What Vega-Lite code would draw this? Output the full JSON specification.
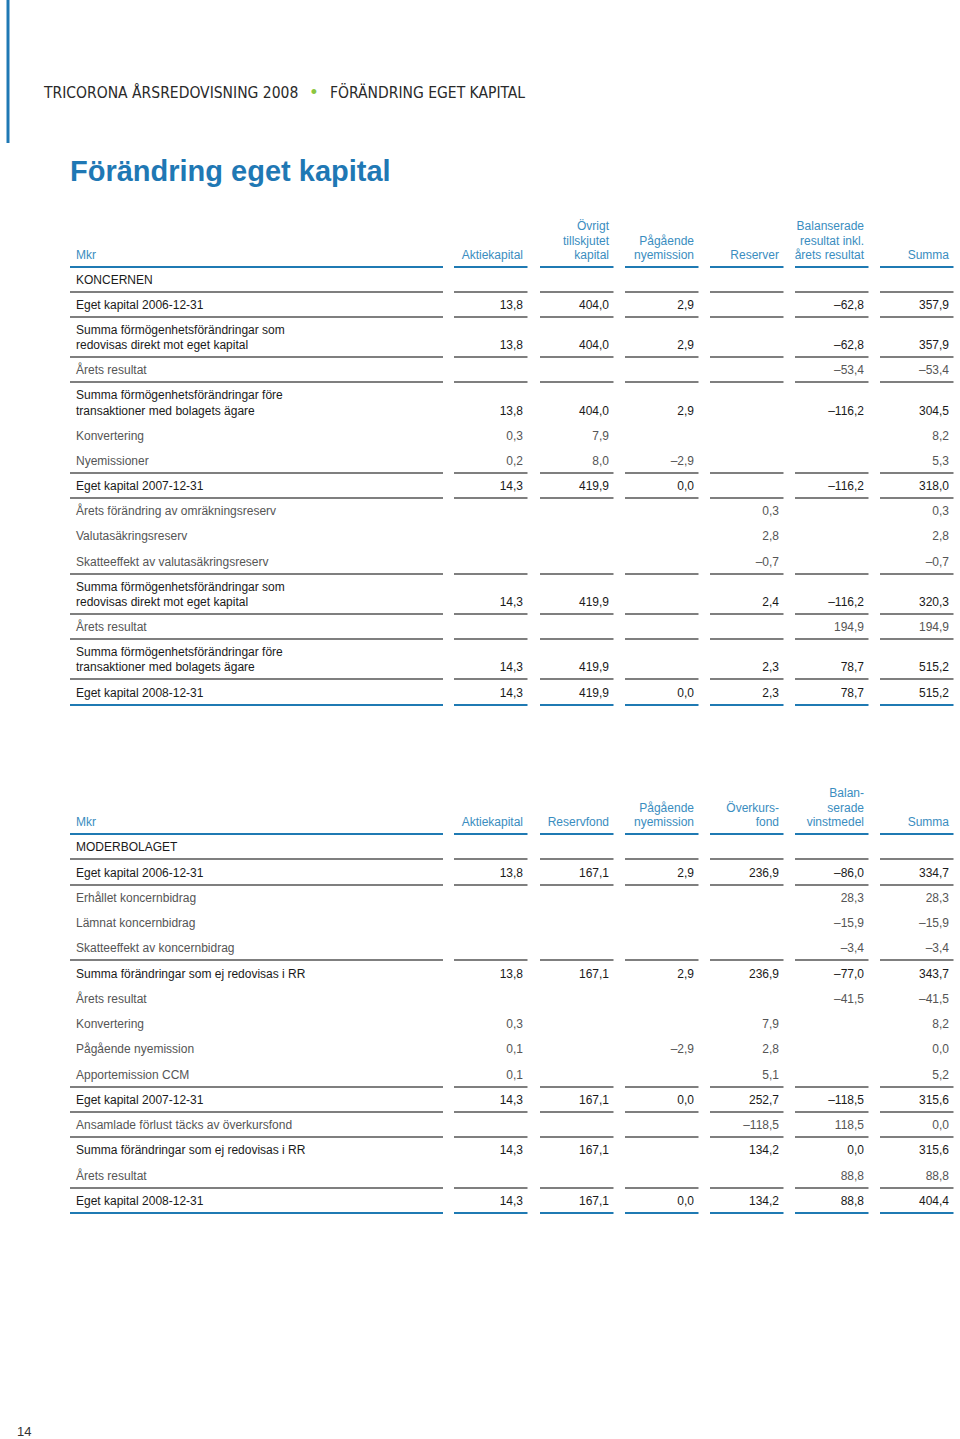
{
  "$schema": "https://vega.github.io/schema/vega-lite/v6.json",
  "width": 960,
  "height": 1439,
  "padding": 0,
  "autosize": {"type": "none"},
  "background": "#ffffff",
  "config": {"view": {"stroke": null}},
  "datasets": {
    "rows": [
      {"s":5,"k":"head","2":"Övrigt","5":"Balanserade"},
      {"s":6,"k":"head","2":"tillskjutet","3":"Pågående","5":"resultat inkl."},
      {"s":7,"k":"head","t":"Mkr","1":"Aktiekapital","2":"kapital","3":"nyemission","4":"Reserver","5":"årets resultat","6":"Summa","ln":"b"},
      {"s":8,"k":"dark","t":"KONCERNEN","ln":"g"},
      {"s":9,"k":"dark","t":"Eget kapital 2006-12-31","1":"13,8","2":"404,0","3":"2,9","5":"–62,8","6":"357,9","ln":"g"},
      {"s":10,"k":"dark","t":"Summa förmögenhetsförändringar som"},
      {"s":11,"k":"dark","t":"redovisas direkt mot eget kapital","1":"13,8","2":"404,0","3":"2,9","5":"–62,8","6":"357,9","ln":"g"},
      {"s":12,"k":"light","t":"Årets resultat","5":"–53,4","6":"–53,4","ln":"g"},
      {"s":13,"k":"dark","t":"Summa förmögenhetsförändringar före"},
      {"s":14,"k":"dark","t":"transaktioner med bolagets ägare","1":"13,8","2":"404,0","3":"2,9","5":"–116,2","6":"304,5"},
      {"s":15,"k":"light","t":"Konvertering","1":"0,3","2":"7,9","6":"8,2"},
      {"s":16,"k":"light","t":"Nyemissioner","1":"0,2","2":"8,0","3":"–2,9","6":"5,3","ln":"g"},
      {"s":17,"k":"dark","t":"Eget kapital 2007-12-31","1":"14,3","2":"419,9","3":"0,0","5":"–116,2","6":"318,0","ln":"g"},
      {"s":18,"k":"light","t":"Årets förändring av omräkningsreserv","4":"0,3","6":"0,3"},
      {"s":19,"k":"light","t":"Valutasäkringsreserv","4":"2,8","6":"2,8"},
      {"s":20,"k":"light","t":"Skatteeffekt av valutasäkringsreserv","4":"–0,7","6":"–0,7","ln":"g"},
      {"s":21,"k":"dark","t":"Summa förmögenhetsförändringar som"},
      {"s":22,"k":"dark","t":"redovisas direkt mot eget kapital","1":"14,3","2":"419,9","4":"2,4","5":"–116,2","6":"320,3","ln":"g"},
      {"s":23,"k":"light","t":"Årets resultat","5":"194,9","6":"194,9","ln":"g"},
      {"s":24,"k":"dark","t":"Summa förmögenhetsförändringar före"},
      {"s":25,"k":"dark","t":"transaktioner med bolagets ägare","1":"14,3","2":"419,9","4":"2,3","5":"78,7","6":"515,2","ln":"g"},
      {"s":26,"k":"dark","t":"Eget kapital 2008-12-31","1":"14,3","2":"419,9","3":"0,0","4":"2,3","5":"78,7","6":"515,2","ln":"b"},
      {"s":27,"k":"head","5":"Balan-"},
      {"s":28,"k":"head","3":"Pågående","4":"Överkurs-","5":"serade"},
      {"s":29,"k":"head","t":"Mkr","1":"Aktiekapital","2":"Reservfond","3":"nyemission","4":"fond","5":"vinstmedel","6":"Summa","ln":"b"},
      {"s":30,"k":"dark","t":"MODERBOLAGET","ln":"g"},
      {"s":31,"k":"dark","t":"Eget kapital 2006-12-31","1":"13,8","2":"167,1","3":"2,9","4":"236,9","5":"–86,0","6":"334,7","ln":"g"},
      {"s":32,"k":"light","t":"Erhållet koncernbidrag","5":"28,3","6":"28,3"},
      {"s":33,"k":"light","t":"Lämnat koncernbidrag","5":"–15,9","6":"–15,9"},
      {"s":34,"k":"light","t":"Skatteeffekt av koncernbidrag","5":"–3,4","6":"–3,4","ln":"g"},
      {"s":35,"k":"dark","t":"Summa förändringar som ej redovisas i RR","1":"13,8","2":"167,1","3":"2,9","4":"236,9","5":"–77,0","6":"343,7"},
      {"s":36,"k":"light","t":"Årets resultat","5":"–41,5","6":"–41,5"},
      {"s":37,"k":"light","t":"Konvertering","1":"0,3","4":"7,9","6":"8,2"},
      {"s":38,"k":"light","t":"Pågående nyemission","1":"0,1","3":"–2,9","4":"2,8","6":"0,0"},
      {"s":39,"k":"light","t":"Apportemission CCM","1":"0,1","4":"5,1","6":"5,2","ln":"g"},
      {"s":40,"k":"dark","t":"Eget kapital 2007-12-31","1":"14,3","2":"167,1","3":"0,0","4":"252,7","5":"–118,5","6":"315,6","ln":"g"},
      {"s":41,"k":"light","t":"Ansamlade förlust täcks av överkursfond","4":"–118,5","5":"118,5","6":"0,0","ln":"g"},
      {"s":42,"k":"dark","t":"Summa förändringar som ej redovisas i RR","1":"14,3","2":"167,1","4":"134,2","5":"0,0","6":"315,6"},
      {"s":43,"k":"light","t":"Årets resultat","5":"88,8","6":"88,8","ln":"g"},
      {"s":44,"k":"dark","t":"Eget kapital 2008-12-31","1":"14,3","2":"167,1","3":"0,0","4":"134,2","5":"88,8","6":"404,4","ln":"b"}
    ]
  },
  "data": {"name": "rows"},
  "layer": [
    {
      "data": {"values": [{"part": "bar"}]},
      "mark": {"type": "rule", "color": "#1f78b4", "strokeWidth": 3, "xOffset": -68},
      "encoding": {
        "x": {"datum": 0, "type": "quantitative", "axis": null, "scale": {"domain": [0,1,2,3,4,5,6], "range": [76,523,609,694,779,864,949], "zero": false, "nice": false}},
        "y": {"datum": 1, "type": "quantitative", "axis": null, "scale": {"domain": [1,2,3,4,5,6,7,8,9,10,11,12,13,14,15,16,17,18,19,20,21,22,23,24,25,26,27,28,29,30,31,32,33,34,35,36,37,38,39,40,41,42,43,44,45], "range": [0,93,143,172,226,241,255,280,305,330,345,370,395,411,436,461,486,511,536,562,587,602,627,652,667,693,793,808,822,847,873,898,923,948,974,999,1024,1049,1075,1100,1125,1150,1176,1201,1432], "zero": false, "nice": false}},
        "y2": {"datum": 3}
      }
    },
    {
      "data": {"values": [{"txt": "TRICORONA ÅRSREDOVISNING 2008"}]},
      "mark": {"type": "text", "align": "left", "baseline": "middle", "dx": -32, "font": "DejaVu Sans Condensed", "fontSize": 15.5, "color": "#2a2a2a"},
      "encoding": {
        "x": {"datum": 0, "type": "quantitative", "axis": null},
        "y": {"datum": 2, "type": "quantitative", "axis": null},
        "text": {"field": "txt"}
      }
    },
    {
      "data": {"values": [{"txt": "•"}]},
      "mark": {"type": "text", "align": "center", "baseline": "middle", "dx": 238, "font": "Liberation Sans", "fontSize": 18, "color": "#8cc63f"},
      "encoding": {
        "x": {"datum": 0, "type": "quantitative", "axis": null},
        "y": {"datum": 2, "type": "quantitative", "axis": null},
        "text": {"field": "txt"}
      }
    },
    {
      "data": {"values": [{"txt": "FÖRÄNDRING EGET KAPITAL"}]},
      "mark": {"type": "text", "align": "left", "baseline": "middle", "dx": 254, "font": "DejaVu Sans Condensed", "fontSize": 15.5, "color": "#2a2a2a"},
      "encoding": {
        "x": {"datum": 0, "type": "quantitative", "axis": null},
        "y": {"datum": 2, "type": "quantitative", "axis": null},
        "text": {"field": "txt"}
      }
    },
    {
      "data": {"values": [{"txt": "Förändring eget kapital"}]},
      "mark": {"type": "text", "align": "left", "baseline": "middle", "dx": -6, "font": "Liberation Sans", "fontSize": 29, "fontWeight": "bold", "color": "#1f78b4"},
      "encoding": {
        "x": {"datum": 0, "type": "quantitative", "axis": null},
        "y": {"datum": 4, "type": "quantitative", "axis": null},
        "text": {"field": "txt"}
      }
    },
    {
      "data": {"values": [{"txt": "14"}]},
      "mark": {"type": "text", "align": "left", "baseline": "middle", "dx": -59, "font": "Liberation Sans", "fontSize": 13, "color": "#333333"},
      "encoding": {
        "x": {"datum": 0, "type": "quantitative", "axis": null},
        "y": {"datum": 45, "type": "quantitative", "axis": null},
        "text": {"field": "txt"}
      }
    },
    {
      "transform": [{"filter": "datum.ln == 'g'"}],
      "mark": {"type": "rule", "color": "#555555", "strokeWidth": 1.5, "xOffset": -6, "x2Offset": 367, "yOffset": 12},
      "encoding": {
        "x": {"datum": 0, "type": "quantitative", "axis": null},
        "x2": {"datum": 0},
        "y": {"field": "s", "type": "quantitative", "axis": null}
      }
    },
    {
      "transform": [{"filter": "datum.ln == 'b'"}],
      "mark": {"type": "rule", "color": "#1f7ab3", "strokeWidth": 2.2, "xOffset": -6, "x2Offset": 367, "yOffset": 12},
      "encoding": {
        "x": {"datum": 0, "type": "quantitative", "axis": null},
        "x2": {"datum": 0},
        "y": {"field": "s", "type": "quantitative", "axis": null}
      }
    },
    {
      "transform": [{"filter": "datum.ln == 'g'"}, {"fold": ["1","2","3","4","5","6"], "as": ["key", "val"]}],
      "mark": {"type": "rule", "color": "#555555", "strokeWidth": 1.5, "xOffset": -69, "x2Offset": 4.5, "yOffset": 12},
      "encoding": {
        "x": {"field": "key", "type": "quantitative", "axis": null},
        "x2": {"field": "key"},
        "y": {"field": "s", "type": "quantitative", "axis": null}
      }
    },
    {
      "transform": [{"filter": "datum.ln == 'b'"}, {"fold": ["1","2","3","4","5","6"], "as": ["key", "val"]}],
      "mark": {"type": "rule", "color": "#1f7ab3", "strokeWidth": 2.2, "xOffset": -69, "x2Offset": 4.5, "yOffset": 12},
      "encoding": {
        "x": {"field": "key", "type": "quantitative", "axis": null},
        "x2": {"field": "key"},
        "y": {"field": "s", "type": "quantitative", "axis": null}
      }
    },
    {
      "transform": [{"filter": "isValid(datum.t)"}],
      "mark": {"type": "text", "align": "left", "baseline": "middle", "font": "Liberation Sans", "fontSize": 12},
      "encoding": {
        "x": {"datum": 0, "type": "quantitative", "axis": null},
        "y": {"field": "s", "type": "quantitative", "axis": null},
        "text": {"field": "t"},
        "color": {"field": "k", "type": "nominal", "legend": null, "scale": {"domain": ["dark", "light", "head"], "range": ["#1a1a1a", "#555555", "#3a8dc0"]}}
      }
    },
    {
      "transform": [{"fold": ["1","2","3","4","5","6"], "as": ["key", "val"]}, {"filter": "isValid(datum.val) && datum.val != ''"}],
      "mark": {"type": "text", "align": "right", "baseline": "middle", "font": "Liberation Sans", "fontSize": 12},
      "encoding": {
        "x": {"field": "key", "type": "quantitative", "axis": null},
        "y": {"field": "s", "type": "quantitative", "axis": null},
        "text": {"field": "val"},
        "color": {"field": "k", "type": "nominal", "legend": null}
      }
    }
  ]
}
